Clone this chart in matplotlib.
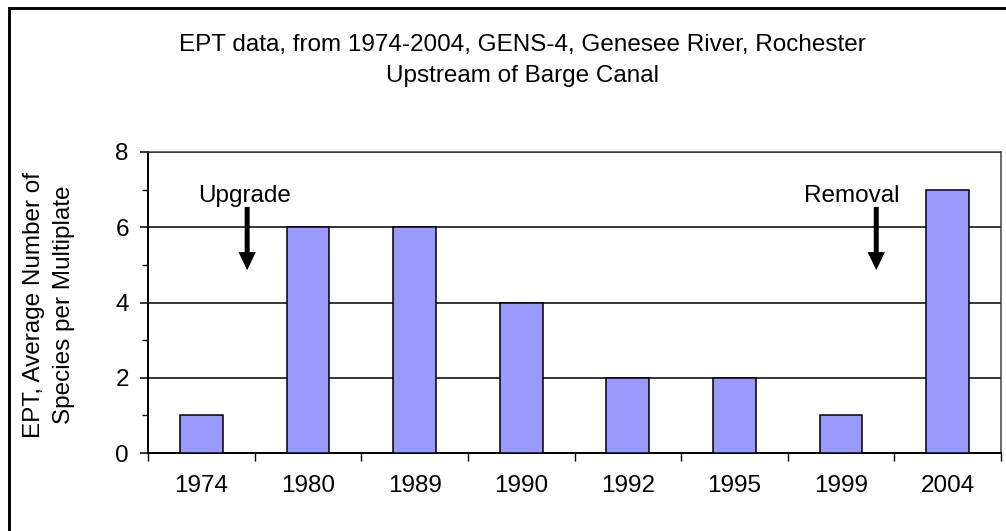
import matplotlib
matplotlib.use("Agg")
import matplotlib.pyplot as plt
from matplotlib.patches import Rectangle
from matplotlib.ticker import MultipleLocator, FixedLocator

years = ["1974", "1980", "1989", "1990", "1992", "1995", "1999", "2004"]
ept_values = [1, 6, 6, 4, 2, 2, 1, 7]
title_lines = ["EPT data, from 1974-2004, GENS-4, Genesee River, Rochester",
               "Upstream of Barge Canal"]
ylabel_text = "EPT, Average Number of\nSpecies per Multiplate"
annotations = [("Upgrade", 0.41, 0.43), ("Removal", 6.10, 6.33)]

plt.rcParams['font.family'] = ['Liberation Sans', 'DejaVu Sans']
FS = 17.5
W, H = 1006, 531
fig = plt.figure(figsize=(W / 100, H / 100), dpi=100)

# outer chart border (right & bottom lie outside the image)
fig.patches.append(Rectangle((8.5 / W, -0.1), 1.2, (H - 8.0) / H + 0.1,
                             transform=fig.transFigure, fill=False,
                             edgecolor='black', linewidth=2.1, zorder=10))

ax = fig.add_axes([148 / W, (H - 453) / H, (1001 - 148) / W, (453 - 152) / H])
x = list(range(len(years)))
ax.bar(x, ept_values, width=0.40, color='#9999FF', edgecolor='black',
       linewidth=1.1, zorder=3)

ax.set_xlim(-0.5, len(years) - 0.5)
ax.set_ylim(0, 8)
ax.yaxis.set_major_locator(MultipleLocator(2))
ax.yaxis.set_minor_locator(MultipleLocator(1))
ax.grid(axis='y', which='major', color='black', linewidth=1.1, zorder=1)
ax.set_axisbelow(True)

ax.set_xticks(x)
ax.set_xticklabels(years)
ax.xaxis.set_minor_locator(FixedLocator([i - 0.5 for i in range(len(years) + 1)]))
ax.tick_params(axis='x', which='major', length=0, pad=16, labelsize=FS)
ax.tick_params(axis='x', which='minor', length=5.5, width=1, direction='out')
ax.tick_params(axis='y', which='major', length=5.8, width=1.1, pad=8, labelsize=FS)
ax.tick_params(axis='y', which='minor', length=4.3, width=1, direction='out')

for side in ['left', 'bottom']:
    ax.spines[side].set_linewidth(1.4)
    ax.spines[side].set_color('black')
for side in ['top', 'right']:
    ax.spines[side].set_linewidth(1.1)
    ax.spines[side].set_color('#404040')

fig.text(49 / W, 1 - 305 / H, ylabel_text, rotation=90, ha='center', va='center',
         fontsize=FS, linespacing=1.5, multialignment='center')

fig.text(522 / W, 1 - 45 / H, title_lines[0], ha='center', va='center', fontsize=FS)
fig.text(522 / W, 1 - 76 / H, title_lines[1], ha='center', va='center', fontsize=FS)

for label, tx, arrow_x in annotations:
    ax.text(tx, 6.67, label, ha='center', va='baseline', fontsize=FS, zorder=5)
    ax.annotate('', xy=(arrow_x, 4.86), xytext=(arrow_x, 6.54),
                arrowprops=dict(width=3.6, headwidth=12.5, headlength=13,
                                facecolor='black', edgecolor='none',
                                shrink=0.0),
                zorder=5)

fig.savefig("out.png", dpi=100)
